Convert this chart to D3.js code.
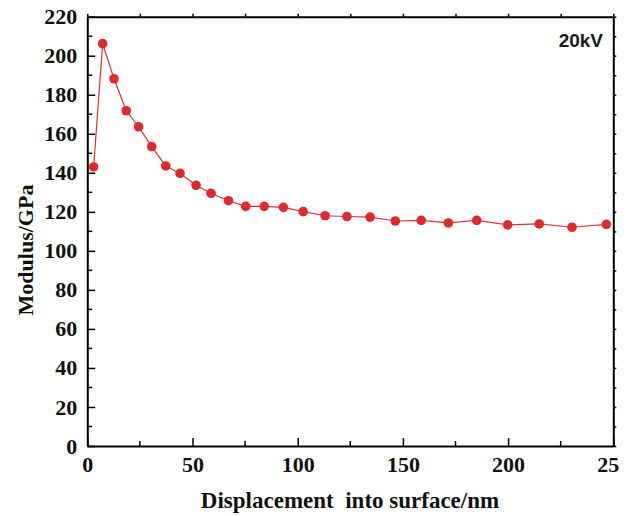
<!DOCTYPE html>
<html>
<head>
<meta charset="utf-8">
<script src="https://d3js.org/d3.v7.min.js"></script>
<style>
  body { margin: 0; background: #fff; }
</style>
</head>
<body>
<div id="chart"></div>
<script>
var depth = [3.0, 7.3, 12.7, 18.5, 24.4, 30.6, 37.3, 44.1, 51.7, 58.8, 67.1, 75.3, 84.1, 93.2,
             102.6, 113.0, 123.4, 134.4, 146.4, 158.7, 171.6, 185.1, 199.8, 214.8, 230.4, 246.7];
var modulus = [143.0, 206.2, 188.2, 171.8, 163.6, 153.4, 143.5, 139.7, 133.6, 129.5, 125.7, 122.8, 122.8, 122.3,
               120.1, 118.0, 117.6, 117.3, 115.3, 115.6, 114.3, 115.6, 113.3, 113.8, 112.1, 113.6];
var xTicks = [0, 50, 100, 150, 200, 250];
var yTicks = [0, 20, 40, 60, 80, 100, 120, 140, 160, 180, 200, 220];
var label = "20kV";

var width = 619,
    height = 516;
var pLeft = 87.3, pTop = 16.7, pRight = 613.3, pBottom = 446;

var svg = d3.select("#chart")
    .append("svg")
    .attr("width", width)
    .attr("height", height);

var x = d3.scaleLinear().domain([0, 250]).range([pLeft, pRight]);
var y = d3.scaleLinear().domain([0, 220]).range([pBottom, pTop]);

var minorX = d3.range(25, 250, 50);
var minorY = d3.range(10, 220, 20);

// top and right frame with small ticks
svg.append("g")
    .attr("transform", "translate(0," + pTop + ")")
    .call(d3.axisTop(x).tickValues(d3.range(0, 251, 25)).tickSize(3).tickFormat("").tickSizeOuter(0));
svg.append("g")
    .attr("transform", "translate(" + pRight + ",0)")
    .call(d3.axisRight(y).tickValues(d3.range(0, 221, 10)).tickSize(3).tickFormat("").tickSizeOuter(0));

// bottom and left axes, ticks inside
svg.append("g")
    .attr("transform", "translate(0," + pBottom + ")")
    .call(d3.axisBottom(x).tickValues(xTicks).tickSize(-8).tickPadding(10).tickSizeOuter(0));
svg.append("g").selectAll("line")
    .data(minorX)
    .enter().append("line")
    .attr("x1", function(d){ return x(d); })
    .attr("x2", function(d){ return x(d); })
    .attr("y1", pBottom)
    .attr("y2", pBottom - 5)
    .attr("stroke", "#000")
    .attr("stroke-width", 1.5);

svg.append("g")
    .attr("transform", "translate(" + pLeft + ",0)")
    .call(d3.axisLeft(y).tickValues(yTicks).tickSize(-8).tickPadding(10).tickSizeOuter(0));
svg.append("g").selectAll("line")
    .data(minorY)
    .enter().append("line")
    .attr("x1", pLeft)
    .attr("x2", pLeft + 5)
    .attr("y1", function(d){ return y(d); })
    .attr("y2", function(d){ return y(d); })
    .attr("stroke", "#000")
    .attr("stroke-width", 1.5);

svg.selectAll(".domain").attr("stroke", "#000").attr("stroke-width", 2);
svg.selectAll(".tick line").attr("stroke", "#000").attr("stroke-width", 1.5);
svg.selectAll(".tick text")
    .style("font-family", "'Liberation Serif', 'Times New Roman', serif")
    .style("font-weight", "bold")
    .style("font-size", "22px")
    .attr("fill", "#111");

var line = d3.line()
    .x(function(d, i){ return x(depth[i]); })
    .y(function(d){ return y(d); });

svg.append("path")
    .datum(modulus)
    .attr("d", line)
    .attr("fill", "none")
    .attr("stroke", "#e03030")
    .attr("stroke-width", 1.2);

svg.selectAll(".pt")
    .data(modulus)
    .enter().append("circle")
    .attr("class", "pt")
    .attr("cx", function(d, i){ return x(depth[i]); })
    .attr("cy", function(d){ return y(d); })
    .attr("r", 4.8)
    .attr("fill", "#dd2a2a");

svg.append("text")
    .attr("x", 603)
    .attr("y", 47)
    .attr("text-anchor", "end")
    .style("font-family", "'Liberation Sans', Arial, sans-serif")
    .style("font-weight", "bold")
    .style("font-size", "19px")
    .attr("fill", "#1a1a1a")
    .text(label);

svg.append("text")
    .attr("x", 350)
    .attr("y", 508)
    .attr("text-anchor", "middle")
    .style("font-family", "'Liberation Serif', 'Times New Roman', serif")
    .style("font-weight", "bold")
    .style("font-size", "23px")
    .attr("fill", "#111")
    .style("white-space", "pre")
    .text("Displacement  into surface/nm");

svg.append("text")
    .attr("transform", "translate(33,250) rotate(-90)")
    .attr("text-anchor", "middle")
    .style("font-family", "'Liberation Serif', 'Times New Roman', serif")
    .style("font-weight", "bold")
    .style("font-size", "22px")
    .attr("fill", "#111")
    .text("Modulus/GPa");
</script>
</body>
</html>
